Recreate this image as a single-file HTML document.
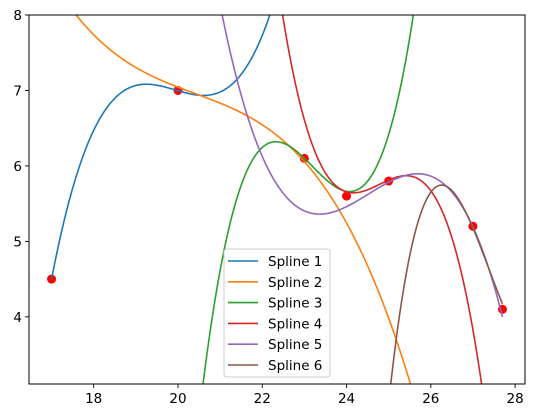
<!DOCTYPE html>
<html><head><meta charset="utf-8"><style>
html,body{margin:0;padding:0;background:#fff;width:534px;height:418px;overflow:hidden;}
svg{display:block;font-family:"DejaVu Sans","Liberation Sans",sans-serif;}
</style></head><body>
<svg id="chart" width="534" height="418" viewBox="0 0 534 418">
<defs><clipPath id="clip"><rect x="29" y="15" width="496" height="369"/></clipPath></defs>
<g id="series" clip-path="url(#clip)"></g>
<rect x="29" y="15" width="496" height="369" fill="none" stroke="#000" stroke-width="1"/>
<g id="ticks"></g>
<g id="legend"></g>
</svg>
<script>
const xTicks = [18, 20, 22, 24, 26, 28];
const yTicks = [4, 5, 6, 7, 8];
const pointX = [17, 20, 23, 24, 25, 27, 27.7];
const pointY = [4.5, 7.0, 6.1, 5.6, 5.8, 5.2, 4.1];
const seriesNames = ["Spline 1","Spline 2","Spline 3","Spline 4","Spline 5","Spline 6"];
const seriesColors = ["#1f77b4","#ff7f0e","#2ca02c","#d62728","#9467bd","#8c564b"];
const s1x = [17, 17.14, 17.45, 18.16, 19.11, 20.0, 20.6, 21.32, 21.8, 22.15];
const s1y = [4.5, 4.93, 5.55, 6.61, 7.13, 7.0, 6.91, 7.14, 7.4, 8.0];
const s2x = [17.59, 18.16, 18.94, 20.0, 21.32, 22.43, 23.0, 23.3, 23.84, 24.25, 24.87, 25.58];
const s2y = [8.0, 7.67, 7.31, 7.0, 6.74, 6.44, 6.07, 5.9, 5.37, 5.02, 3.96, 3.11];
const s3x = [20.6, 20.93, 21.14, 21.48, 21.87, 22.27, 22.74, 23.0, 23.45, 24.0, 24.02, 24.32, 24.72, 25.1, 25.43, 25.6];
const s3y = [3.11, 4.45, 4.95, 5.72, 6.17, 6.36, 6.25, 6.07, 5.86, 5.6, 5.6, 5.68, 6.08, 6.74, 7.44, 8.0];
const s4x = [22.48, 22.67, 22.98, 23.46, 24.0, 24.02, 24.5, 25.0, 25.51, 25.9, 26.2, 26.61, 26.85, 27.22];
const s4y = [8.0, 7.4, 6.65, 6.04, 5.6, 5.6, 5.68, 5.81, 5.9, 5.79, 5.46, 4.89, 4.13, 3.11];
const s5x = [21.05, 21.3, 21.64, 22.03, 22.42, 23.3, 23.92, 25.0, 25.67, 26.29, 26.7, 27.0, 27.17, 27.7];
const s5y = [8.0, 7.31, 6.7, 6.17, 5.66, 5.34, 5.46, 5.72, 5.92, 5.79, 5.5, 5.19, 5.0, 3.97];
const s6x = [25.1, 25.27, 25.43, 25.58, 25.9, 26.34, 26.7, 27.0, 27.33, 27.7];
const s6y = [3.11, 4.36, 4.75, 4.93, 5.46, 5.66, 5.55, 5.19, 4.79, 4.12];
const seriesX = [s1x, s2x, s3x, s4x, s5x, s6x];
const seriesY = [s1y, s2y, s3y, s4y, s5y, s6y];
const rangeLo = [17, 16.5, 16.5, 16.5, 16.5, 16.5];
const rangeHi = [28.3, 28.3, 28.3, 28.3, 27.7, 27.7];

const NS = "http://www.w3.org/2000/svg";
const X0 = 16.465, X1 = 28.235, Y0 = 3.11, Y1 = 8.0;
const L = 29, R = 525, T = 15, B = 384;
function sx(v){ return L + (v - X0) / (X1 - X0) * (R - L); }
function sy(v){ return B - (v - Y0) / (Y1 - Y0) * (B - T); }
function mk(tag, attrs, parent){
  const e = document.createElementNS(NS, tag);
  for (const k in attrs) e.setAttribute(k, attrs[k]);
  parent.appendChild(e); return e;
}
function fitCubic(xs, ys){
  const m = xs.reduce((a,b)=>a+b,0)/xs.length;
  const n = 4, A = [], bv = [];
  for (let i=0;i<n;i++){ A.push(new Array(n).fill(0)); bv.push(0); }
  for (let k=0;k<xs.length;k++){
    const u = xs[k]-m, pw=[1,u,u*u,u*u*u];
    for (let i=0;i<n;i++){ bv[i]+=pw[i]*ys[k]; for (let j=0;j<n;j++) A[i][j]+=pw[i]*pw[j]; }
  }
  for (let i=0;i<n;i++){
    let p=i; for (let r=i+1;r<n;r++) if (Math.abs(A[r][i])>Math.abs(A[p][i])) p=r;
    [A[i],A[p]]=[A[p],A[i]]; [bv[i],bv[p]]=[bv[p],bv[i]];
    for (let r=i+1;r<n;r++){ const f=A[r][i]/A[i][i]; for (let j=i;j<n;j++) A[r][j]-=f*A[i][j]; bv[r]-=f*bv[i]; }
  }
  const c=new Array(n).fill(0);
  for (let i=n-1;i>=0;i--){ let s=bv[i]; for (let j=i+1;j<n;j++) s-=A[i][j]*c[j]; c[i]=s/A[i][i]; }
  return x => { const u=x-m; return c[0]+u*(c[1]+u*(c[2]+u*c[3])); };
}
const gS = document.getElementById("series");
const gT = document.getElementById("ticks");
const gL = document.getElementById("legend");

for (let i = 0; i < pointX.length; i++){
  const c = mk("circle", {cx: sx(pointX[i]), cy: sy(pointY[i]), r: 4.5, fill: "#ff0000"}, gS);
  
  
}
for (let s = 0; s < seriesX.length; s++){
  const f = fitCubic(seriesX[s], seriesY[s]);
  let d = "";
  const N = 400;
  for (let i = 0; i <= N; i++){
    const x = rangeLo[s] + (rangeHi[s]-rangeLo[s])*i/N;
    const y = Math.max(-50, Math.min(60, f(x)));
    d += (i ? " L" : "M") + sx(x).toFixed(2) + "," + sy(y).toFixed(2);
  }
  const p = mk("path", {d: d, fill: "none", stroke: seriesColors[s], "stroke-width": 1.6}, gS);
  
  
}

for (const t of xTicks){
  const x = sx(t);
  const l = mk("line", {x1: x, x2: x, y1: B, y2: B + 4, stroke: "#000", "stroke-width": 0.9}, gT);
  
  
  const tx = mk("text", {x: x, y: B + 19, "text-anchor": "middle", "font-size": "13.5px", fill: "#000"}, gT);
  tx.textContent = t;
  
  
}
for (const t of yTicks){
  const y = sy(t);
  const l = mk("line", {x1: L - 4, x2: L, y1: y, y2: y, stroke: "#000", "stroke-width": 0.9}, gT);
  
  
  const tx = mk("text", {x: L - 7, y: y + 5, "text-anchor": "end", "font-size": "13.5px", fill: "#000"}, gT);
  tx.textContent = t;
  
  
}

const box = mk("rect", {x: 224, y: 249, width: 106, height: 128, rx: 3, fill: "#fff", "fill-opacity": 0.8, stroke: "#ccc", "stroke-width": 1}, gL);


for (let s = 0; s < seriesNames.length; s++){
  const y = 261 + s * 20.8;
  const l = mk("line", {x1: 228, x2: 258, y1: y, y2: y, stroke: seriesColors[s], "stroke-width": 1.6}, gL);
  
  
  const tx = mk("text", {x: 268, y: y + 5, "font-size": "13.5px", fill: "#000"}, gL);
  tx.textContent = seriesNames[s];
  
  
}
</script>
</body></html>
